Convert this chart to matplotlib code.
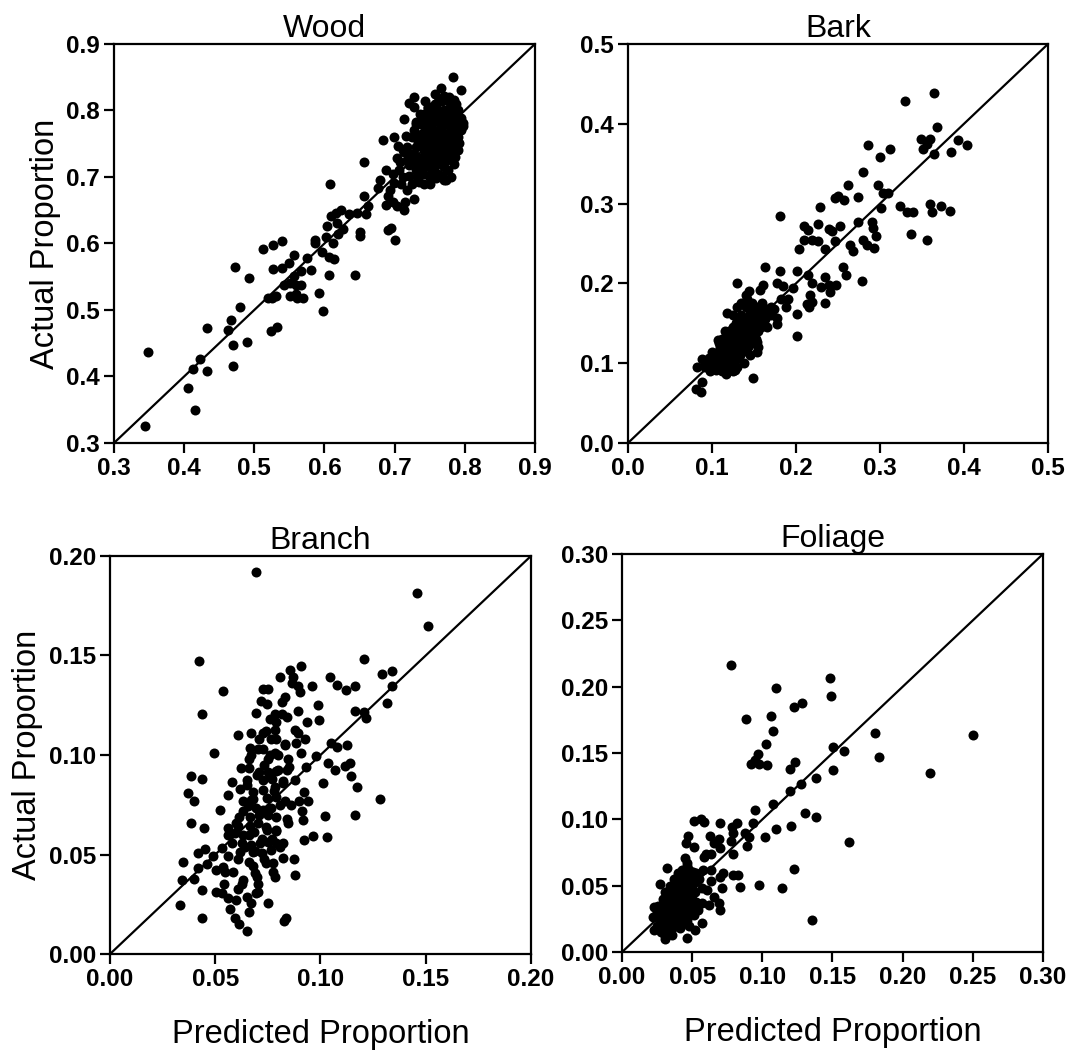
import matplotlib
matplotlib.use("Agg")
import matplotlib.pyplot as plt

plt.rcParams['font.family'] = ['Liberation Sans', 'DejaVu Sans']

# ---- Wood ----
wood_pred = [0.348, 0.344, 0.405, 0.416, 0.412, 0.422, 0.432, 0.433, 0.463, 0.467, 0.470, 0.470,
             0.479, 0.490, 0.472, 0.493, 0.512, 0.526, 0.539, 0.526, 0.540, 0.549, 0.556, 0.520,
             0.525, 0.531, 0.524, 0.533, 0.542, 0.551, 0.556, 0.566, 0.559, 0.566, 0.551, 0.559,
             0.561, 0.569, 0.575, 0.581, 0.586, 0.586, 0.592, 0.598, 0.596, 0.602, 0.606, 0.607,
             0.609, 0.608, 0.612, 0.613, 0.604, 0.618, 0.620, 0.624, 0.627, 0.616, 0.635, 0.643,
             0.646, 0.650, 0.651, 0.656, 0.656, 0.659, 0.662, 0.677, 0.679, 0.683, 0.688, 0.690,
             0.688, 0.690, 0.695, 0.701, 0.693, 0.699, 0.699, 0.705, 0.703, 0.698, 0.706, 0.712,
             0.713, 0.714, 0.715, 0.718, 0.720, 0.716, 0.720, 0.728, 0.728, 0.727, 0.730, 0.732,
             0.725, 0.735, 0.730, 0.737, 0.740, 0.742, 0.744, 0.749, 0.747, 0.751, 0.754, 0.756,
             0.759, 0.761, 0.763, 0.766, 0.767, 0.768, 0.770, 0.773, 0.775, 0.778, 0.783, 0.785,
             0.785, 0.787, 0.792, 0.794, 0.797, 0.797, 0.790]
wood_act = [0.437, 0.325, 0.382, 0.350, 0.412, 0.426, 0.409, 0.473, 0.470, 0.485, 0.448, 0.416,
            0.504, 0.452, 0.565, 0.548, 0.591, 0.598, 0.603, 0.562, 0.563, 0.570, 0.582, 0.518,
            0.518, 0.521, 0.469, 0.475, 0.538, 0.541, 0.551, 0.559, 0.538, 0.537, 0.521, 0.524,
            0.518, 0.518, 0.578, 0.560, 0.605, 0.601, 0.525, 0.499, 0.587, 0.610, 0.579, 0.552,
            0.641, 0.689, 0.601, 0.576, 0.627, 0.631, 0.614, 0.651, 0.622, 0.646, 0.644, 0.553,
            0.646, 0.617, 0.612, 0.723, 0.672, 0.645, 0.657, 0.683, 0.696, 0.755, 0.711, 0.671,
            0.658, 0.621, 0.623, 0.605, 0.681, 0.691, 0.760, 0.746, 0.656, 0.663, 0.711, 0.741,
            0.787, 0.651, 0.663, 0.681, 0.701, 0.761, 0.812, 0.821, 0.805, 0.667, 0.783, 0.728,
            0.728, 0.693, 0.711, 0.746, 0.766, 0.786, 0.716, 0.701, 0.803, 0.806, 0.771, 0.751,
            0.699, 0.731, 0.816, 0.834, 0.791, 0.701, 0.761, 0.696, 0.739, 0.821, 0.851, 0.816,
            0.798, 0.741, 0.751, 0.831, 0.781, 0.776, 0.771]
# dense core of the wood cloud
wood_core_pred = [0.735, 0.740, 0.745, 0.750, 0.752, 0.755, 0.758, 0.760, 0.762, 0.765, 0.768,
                  0.770, 0.772, 0.775, 0.778, 0.780, 0.782, 0.785, 0.788, 0.790, 0.745, 0.750,
                  0.755, 0.760, 0.765, 0.770, 0.775, 0.780, 0.785, 0.740, 0.735, 0.730, 0.725,
                  0.728, 0.738, 0.742, 0.748, 0.757, 0.768, 0.775, 0.782, 0.790, 0.795, 0.760,
                  0.752, 0.766, 0.772, 0.744, 0.756, 0.778, 0.722, 0.718, 0.712, 0.725, 0.732,
                  0.742, 0.762, 0.780, 0.752, 0.770,
                  0.748, 0.753, 0.758, 0.763, 0.767, 0.771, 0.776, 0.781, 0.786, 0.743, 0.739,
                  0.733, 0.747, 0.757, 0.764, 0.769, 0.774, 0.779, 0.761, 0.754, 0.746, 0.736,
                  0.731, 0.727, 0.737, 0.749, 0.758, 0.766, 0.776, 0.786, 0.791, 0.794, 0.788,
                  0.770, 0.758, 0.744, 0.717, 0.721, 0.729, 0.708, 0.714, 0.703, 0.698, 0.709,
                  0.740, 0.750, 0.771, 0.783, 0.762, 0.742]
wood_core_act = [0.760, 0.745, 0.770, 0.755, 0.780, 0.765, 0.790, 0.745, 0.770, 0.755, 0.780,
                 0.800, 0.745, 0.765, 0.785, 0.755, 0.775, 0.765, 0.790, 0.740, 0.735, 0.725,
                 0.740, 0.720, 0.735, 0.715, 0.725, 0.735, 0.720, 0.720, 0.710, 0.745, 0.760,
                 0.770, 0.780, 0.795, 0.805, 0.810, 0.815, 0.800, 0.805, 0.800, 0.770, 0.800,
                 0.750, 0.790, 0.760, 0.755, 0.730, 0.745, 0.735, 0.725, 0.700, 0.690, 0.700,
                 0.690, 0.705, 0.700, 0.700, 0.730,
                 0.762, 0.772, 0.758, 0.782, 0.768, 0.752, 0.778, 0.762, 0.782, 0.778, 0.765,
                 0.752, 0.742, 0.748, 0.762, 0.742, 0.792, 0.812, 0.812, 0.795, 0.788, 0.795,
                 0.780, 0.735, 0.728, 0.715, 0.708, 0.722, 0.710, 0.730, 0.760, 0.788, 0.810,
                 0.822, 0.825, 0.815, 0.745, 0.718, 0.722, 0.722, 0.738, 0.728, 0.705, 0.690,
                 0.705, 0.690, 0.695, 0.750, 0.740, 0.740]

# ---- Bark ----
bark_pred = [0.364, 0.330, 0.368, 0.349, 0.359, 0.356, 0.351, 0.364, 0.393, 0.404, 0.385, 0.286,
             0.312, 0.300, 0.280, 0.262, 0.298, 0.274, 0.246, 0.250, 0.257, 0.304, 0.310, 0.301,
             0.228, 0.324, 0.332, 0.339, 0.359, 0.362, 0.373, 0.383, 0.337, 0.356, 0.181, 0.209,
             0.214, 0.226, 0.239, 0.243, 0.252, 0.274, 0.291, 0.292, 0.295, 0.210, 0.219, 0.226,
             0.247, 0.235, 0.203, 0.264, 0.268, 0.280, 0.285, 0.293, 0.163, 0.181, 0.201, 0.256,
             0.259, 0.214, 0.234, 0.278, 0.130, 0.161, 0.177, 0.185, 0.219, 0.230, 0.239, 0.248,
             0.196, 0.240, 0.217, 0.144, 0.157, 0.140, 0.191, 0.182, 0.213, 0.219, 0.234, 0.216,
             0.188, 0.201, 0.201, 0.149, 0.118,
             0.081, 0.087, 0.088, 0.082, 0.088, 0.100, 0.107, 0.117, 0.127, 0.153, 0.153, 0.177,
             0.177, 0.167, 0.174]
bark_act = [0.439, 0.429, 0.396, 0.381, 0.381, 0.375, 0.368, 0.362, 0.380, 0.374, 0.365, 0.373,
            0.368, 0.358, 0.339, 0.323, 0.323, 0.308, 0.307, 0.309, 0.305, 0.313, 0.313, 0.294,
            0.296, 0.297, 0.289, 0.289, 0.300, 0.289, 0.297, 0.291, 0.262, 0.255, 0.284, 0.272,
            0.267, 0.274, 0.268, 0.266, 0.272, 0.277, 0.277, 0.270, 0.259, 0.254, 0.254, 0.253,
            0.253, 0.243, 0.243, 0.248, 0.241, 0.255, 0.248, 0.244, 0.221, 0.216, 0.215, 0.220,
            0.211, 0.210, 0.208, 0.203, 0.200, 0.198, 0.201, 0.197, 0.201, 0.196, 0.198, 0.198,
            0.194, 0.189, 0.186, 0.191, 0.192, 0.185, 0.181, 0.180, 0.174, 0.177, 0.176, 0.170,
            0.171, 0.162, 0.134, 0.082, 0.163,
            0.068, 0.064, 0.077, 0.095, 0.105, 0.114, 0.129, 0.087, 0.091, 0.114, 0.126, 0.149,
            0.157, 0.168, 0.168]
# dense core of the bark cloud
bark_core_pred = [0.095, 0.100, 0.105, 0.110, 0.112, 0.115, 0.118, 0.120, 0.122, 0.125, 0.128,
                  0.130, 0.132, 0.135, 0.138, 0.140, 0.142, 0.145, 0.148, 0.150, 0.110, 0.115,
                  0.120, 0.125, 0.130, 0.135, 0.140, 0.145, 0.128, 0.135, 0.140, 0.132, 0.125,
                  0.118, 0.112, 0.108, 0.105, 0.100, 0.122, 0.128, 0.133, 0.138, 0.143, 0.148,
                  0.152, 0.155, 0.158, 0.160, 0.163, 0.165, 0.155, 0.145, 0.138, 0.130, 0.125,
                  0.118, 0.112, 0.105, 0.098, 0.092, 0.120, 0.125, 0.130, 0.145, 0.150, 0.155,
                  0.160, 0.170, 0.165, 0.150, 0.115, 0.108, 0.135, 0.142, 0.148,
                  0.110, 0.114, 0.118, 0.122, 0.126, 0.130, 0.134, 0.137, 0.141, 0.144, 0.147,
                  0.152, 0.156, 0.104, 0.108, 0.116, 0.124, 0.127, 0.133, 0.139, 0.121, 0.117,
                  0.113, 0.136, 0.143, 0.150, 0.158, 0.162, 0.170, 0.131, 0.126, 0.119, 0.097,
                  0.102, 0.092]
bark_core_act = [0.100, 0.098, 0.103, 0.098, 0.110, 0.105, 0.115, 0.100, 0.120, 0.110, 0.125,
                 0.115, 0.130, 0.120, 0.135, 0.125, 0.140, 0.130, 0.145, 0.135, 0.120, 0.125,
                 0.130, 0.135, 0.140, 0.145, 0.150, 0.155, 0.150, 0.160, 0.170, 0.155, 0.145,
                 0.135, 0.130, 0.115, 0.112, 0.105, 0.108, 0.105, 0.110, 0.115, 0.120, 0.125,
                 0.130, 0.140, 0.145, 0.150, 0.155, 0.160, 0.120, 0.110, 0.100, 0.095, 0.090,
                 0.092, 0.090, 0.092, 0.090, 0.095, 0.140, 0.160, 0.170, 0.165, 0.160, 0.170,
                 0.175, 0.160, 0.145, 0.150, 0.140, 0.125, 0.175, 0.180, 0.175,
                 0.108, 0.118, 0.122, 0.128, 0.118, 0.128, 0.138, 0.128, 0.132, 0.142, 0.138,
                 0.148, 0.152, 0.108, 0.102, 0.100, 0.102, 0.112, 0.122, 0.142, 0.115, 0.108,
                 0.104, 0.150, 0.158, 0.140, 0.160, 0.165, 0.170, 0.135, 0.128, 0.126, 0.106,
                 0.096, 0.100]

# ---- Branch ----
branch_pred = [0.0696, 0.146, 0.151, 0.0424, 0.1207, 0.0907, 0.0854, 0.081, 0.0868, 0.134, 0.129,
               0.1047, 0.108, 0.112, 0.1166, 0.134, 0.0962, 0.0891, 0.0867, 0.0725, 0.0752, 0.0538,
               0.0902, 0.083, 0.0717, 0.0744, 0.0815, 0.0986, 0.1318, 0.0438, 0.0693, 0.0894,
               0.1163, 0.1207, 0.1214, 0.0783, 0.0815, 0.0843, 0.0994, 0.0938, 0.0791, 0.0609,
               0.0672, 0.0725, 0.0783, 0.0878, 0.0894, 0.0926, 0.0886, 0.0767, 0.0791, 0.083,
               0.0665, 0.0704, 0.0728, 0.0495, 0.0783, 0.0907, 0.0981, 0.1052, 0.1079, 0.1127,
               0.0661, 0.0752, 0.0847, 0.1036, 0.1142, 0.1118, 0.0622, 0.0661, 0.0796, 0.0839,
               0.0930, 0.1068, 0.0709, 0.0752, 0.0383, 0.0438, 0.0582, 0.0653, 0.0728, 0.076,
               0.0878, 0.1144, 0.1013, 0.1174, 0.0369, 0.062, 0.068, 0.0728, 0.0783, 0.0823,
               0.0921, 0.0562, 0.040, 0.063, 0.0672, 0.0744, 0.0791, 0.083, 0.0899, 0.0941,
               0.1282, 0.0657, 0.0696, 0.0728, 0.0767, 0.0522, 0.0910, 0.0614, 0.0665, 0.1021,
               0.1166, 0.0791, 0.0387, 0.0448, 0.0562, 0.0609, 0.0665, 0.0701, 0.0744, 0.0791,
               0.0847, 0.0918, 0.0593, 0.063, 0.0685, 0.0965, 0.1033, 0.0922, 0.0625, 0.0672,
               0.0712, 0.0752, 0.0791, 0.0823, 0.053, 0.0451, 0.062, 0.068, 0.072, 0.0767, 0.0807,
               0.0419, 0.0490, 0.0562, 0.0823, 0.0875, 0.0345, 0.0459, 0.0535, 0.0661, 0.0741,
               0.0775, 0.0419, 0.0506, 0.0546, 0.0585, 0.0688, 0.0775, 0.034, 0.0399, 0.0699,
               0.0783, 0.0878, 0.0633, 0.0625, 0.0543, 0.0502, 0.053, 0.0438, 0.0609, 0.0704,
               0.0704, 0.0562, 0.0601, 0.0649, 0.0696, 0.0668, 0.0752, 0.0332, 0.0569, 0.0660,
               0.0593, 0.0438, 0.0614, 0.0649, 0.0828, 0.0835,
               0.065, 0.068, 0.071, 0.074, 0.077, 0.066, 0.069, 0.072, 0.075, 0.078, 0.081,
               0.084, 0.070, 0.073, 0.076, 0.079, 0.082, 0.085, 0.063, 0.060, 0.067, 0.071,
               0.074, 0.077, 0.080, 0.064, 0.061, 0.068, 0.073, 0.079, 0.086, 0.083, 0.076,
               0.058, 0.056]
branch_act = [0.1921, 0.1816, 0.165, 0.147, 0.148, 0.1447, 0.1427, 0.139, 0.139, 0.1424, 0.1407,
              0.139, 0.135, 0.1327, 0.1348, 0.1348, 0.1348, 0.1348, 0.136, 0.133, 0.133, 0.132,
              0.1318, 0.129, 0.127, 0.1256, 0.1268, 0.1251, 0.126, 0.1206, 0.121, 0.1221, 0.1221,
              0.1214, 0.1184, 0.1204, 0.1204, 0.1193, 0.1176, 0.1168, 0.1168, 0.110, 0.1112,
              0.1112, 0.1126, 0.1126, 0.1112, 0.1079, 0.1062, 0.1079, 0.1079, 0.1054, 0.1037,
              0.1028, 0.1028, 0.1008, 0.1008, 0.1008, 0.0995, 0.1062, 0.1042, 0.1050, 0.0978,
              0.0978, 0.0978, 0.0958, 0.0958, 0.0945, 0.0933, 0.0933, 0.0925, 0.0925, 0.0938,
              0.0925, 0.0916, 0.0916, 0.0896, 0.0879, 0.0866, 0.0874, 0.0874, 0.0891, 0.0874,
              0.0896, 0.0858, 0.0838, 0.0807, 0.0827, 0.0816, 0.0824, 0.0838, 0.0858, 0.0812,
              0.0799, 0.0771, 0.0771, 0.0774, 0.0782, 0.0791, 0.0771, 0.0771, 0.0771, 0.0777,
              0.0744, 0.0732, 0.0724, 0.0732, 0.0724, 0.0719, 0.069, 0.069, 0.0695, 0.0698, 0.069,
              0.066, 0.0632, 0.0632, 0.0645, 0.0645, 0.0657, 0.0623, 0.0623, 0.0657, 0.0673,
              0.0606, 0.0598, 0.0615, 0.0593, 0.0586, 0.0573, 0.0556, 0.0548, 0.0556, 0.0565,
              0.0556, 0.0556, 0.0534, 0.0526, 0.0514, 0.0514, 0.0506, 0.0523, 0.0539, 0.0506,
              0.0492, 0.0492, 0.0481, 0.0476, 0.0461, 0.0452, 0.0439, 0.0464, 0.0459, 0.0459,
              0.043, 0.0422, 0.0414, 0.0414, 0.0405, 0.0414, 0.0372, 0.0377, 0.0385, 0.0389,
              0.0397, 0.0372, 0.035, 0.035, 0.0313, 0.0305, 0.0322, 0.0325, 0.035, 0.0313, 0.028,
              0.0271, 0.0288, 0.0308, 0.0255, 0.0258, 0.0246, 0.0224, 0.0209, 0.0179, 0.0179,
              0.0149, 0.0116, 0.0166, 0.0179,
              0.085, 0.078, 0.070, 0.064, 0.058, 0.060, 0.052, 0.058, 0.070, 0.082, 0.075,
              0.068, 0.090, 0.095, 0.100, 0.092, 0.087, 0.094, 0.072, 0.066, 0.100, 0.108,
              0.112, 0.088, 0.100, 0.054, 0.048, 0.044, 0.048, 0.062, 0.075, 0.105, 0.118,
              0.056, 0.060]

# ---- Foliage ----
foliage_pred = [0.0774, 0.1483, 0.110, 0.1488, 0.1286, 0.1226, 0.106, 0.0881, 0.1079, 0.1805,
                0.2505, 0.1029, 0.1507, 0.1579, 0.1829, 0.0971, 0.0921, 0.0976, 0.0948, 0.1036,
                0.1231, 0.1195, 0.1505, 0.2195, 0.1386, 0.1274, 0.1195, 0.1076, 0.0945, 0.1302,
                0.1381, 0.0933, 0.1095, 0.1202, 0.1019, 0.1619, 0.0888, 0.0905, 0.0874, 0.0821,
                0.0781, 0.0793, 0.0774, 0.0793, 0.0702, 0.0512, 0.056, 0.0583, 0.0626, 0.0690,
                0.0655, 0.0702, 0.0471, 0.0457, 0.0512, 0.060, 0.0631, 0.0583, 0.0631, 0.0721,
                0.0702, 0.0793, 0.0829, 0.0976, 0.084, 0.1138, 0.1226, 0.1357, 0.0631, 0.0714,
                0.0607, 0.0655, 0.069, 0.0695, 0.0619, 0.0571, 0.0531, 0.0567, 0.0517, 0.046,
                0.0464, 0.0517, 0.0507, 0.046, 0.0448, 0.0321, 0.0274, 0.0226, 0.0219, 0.0226,
                0.031,
                0.025, 0.027, 0.028, 0.030, 0.030, 0.032, 0.033, 0.034, 0.035, 0.036, 0.037, 0.038,
                0.039, 0.040, 0.041, 0.042, 0.043, 0.044, 0.045, 0.046, 0.047, 0.048, 0.049, 0.050,
                0.028, 0.031, 0.033, 0.036, 0.039, 0.042, 0.045, 0.048, 0.026, 0.029, 0.031, 0.034,
                0.037, 0.040, 0.043, 0.046, 0.024, 0.027, 0.035, 0.038, 0.041, 0.044, 0.032, 0.035,
                0.037, 0.040, 0.042, 0.045, 0.050, 0.052, 0.055, 0.053, 0.057, 0.058, 0.051, 0.054,
                0.030, 0.032, 0.034, 0.036, 0.038, 0.040, 0.042, 0.044, 0.046, 0.035, 0.037, 0.033,
                0.031, 0.029, 0.028, 0.026, 0.039, 0.041, 0.043, 0.045, 0.047, 0.049, 0.036, 0.034,
                0.040, 0.038, 0.042, 0.044, 0.048, 0.052, 0.036, 0.041, 0.046, 0.050]
foliage_act = [0.2165, 0.2065, 0.1992, 0.1927, 0.188, 0.1847, 0.1782, 0.1754, 0.1667, 0.1654,
               0.1639, 0.1571, 0.1546, 0.1514, 0.1471, 0.1496, 0.1421, 0.1421, 0.1446, 0.1414,
               0.1434, 0.1378, 0.1371, 0.1351, 0.1316, 0.1266, 0.1216, 0.1113, 0.1075, 0.105,
               0.102, 0.097, 0.0927, 0.095, 0.087, 0.083, 0.080, 0.0865, 0.0895, 0.097, 0.094,
               0.0895, 0.0837, 0.0739, 0.0975, 0.099, 0.100, 0.0982, 0.0875, 0.085, 0.082, 0.0782,
               0.0875, 0.0825, 0.079, 0.0739, 0.0739, 0.0719, 0.0619, 0.0599, 0.0569, 0.0581,
               0.0581, 0.0506, 0.0489, 0.0481, 0.0624, 0.0243, 0.0536, 0.0481, 0.0469, 0.0419,
               0.0368, 0.0318, 0.0356, 0.0368, 0.0381, 0.0218, 0.0168, 0.0105, 0.0243, 0.0531,
               0.0607, 0.0669, 0.0707, 0.0632, 0.0511, 0.0343, 0.0268, 0.0168, 0.0098,
               0.020, 0.025, 0.030, 0.022, 0.035, 0.028, 0.040, 0.018, 0.032, 0.045, 0.025, 0.038,
               0.050, 0.030, 0.042, 0.055, 0.035, 0.048, 0.040, 0.052, 0.030, 0.045, 0.058, 0.035,
               0.015, 0.012, 0.015, 0.013, 0.020, 0.022, 0.025, 0.020, 0.035, 0.040, 0.045, 0.050,
               0.055, 0.060, 0.062, 0.065, 0.028, 0.018, 0.022, 0.030, 0.027, 0.032, 0.036, 0.040,
               0.048, 0.050, 0.045, 0.058, 0.050, 0.045, 0.055, 0.060, 0.048, 0.062, 0.028, 0.032,
               0.030, 0.020, 0.026, 0.034, 0.042, 0.038, 0.030, 0.040, 0.045, 0.045, 0.035, 0.032,
               0.038, 0.026, 0.022, 0.030, 0.026, 0.034, 0.044, 0.050, 0.055, 0.040, 0.050, 0.042,
               0.046, 0.054, 0.050, 0.056, 0.062, 0.055, 0.018, 0.018, 0.035, 0.040]

panels = [
    dict(title="Wood", x=wood_pred + wood_core_pred, y=wood_act + wood_core_act, lim=(0.3, 0.9),
         ticks=[0.3, 0.4, 0.5, 0.6, 0.7, 0.8, 0.9], fmt="{:.1f}",
         rect=[0.1063, 0.5801, 0.3927, 0.3782], ylabel=True, xlabel=False),
    dict(title="Bark", x=bark_pred + bark_core_pred, y=bark_act + bark_core_act, lim=(0.0, 0.5),
         ticks=[0.0, 0.1, 0.2, 0.3, 0.4, 0.5], fmt="{:.1f}",
         rect=[0.5858, 0.5801, 0.3918, 0.3782], ylabel=False, xlabel=False),
    dict(title="Branch", x=branch_pred, y=branch_act, lim=(0.0, 0.2),
         ticks=[0.00, 0.05, 0.10, 0.15, 0.20], fmt="{:.2f}",
         rect=[0.1026, 0.0957, 0.3927, 0.3773], ylabel=True, xlabel=True),
    dict(title="Foliage", x=foliage_pred, y=foliage_act, lim=(0.0, 0.3),
         ticks=[0.00, 0.05, 0.10, 0.15, 0.20, 0.25, 0.30], fmt="{:.2f}",
         rect=[0.5802, 0.0975, 0.3927, 0.3773], ylabel=False, xlabel=True),
]

fig = plt.figure(figsize=(10.72, 10.55), dpi=100)

for p in panels:
    ax = fig.add_axes(p["rect"])
    lo, hi = p["lim"]
    ax.plot([lo, hi], [lo, hi], color="black", lw=1.6, zorder=1)
    ax.plot(p["x"], p["y"], "o", color="black", ms=7.2, mew=0, zorder=2)
    ax.set_xlim(lo, hi)
    ax.set_ylim(lo, hi)
    ax.set_xticks(p["ticks"])
    ax.set_yticks(p["ticks"])
    labels = [p["fmt"].format(t) for t in p["ticks"]]
    ax.set_xticklabels(labels, fontsize=17.5, fontweight="bold")
    ax.set_yticklabels(labels, fontsize=17.5, fontweight="bold")
    ax.tick_params(direction="out", length=7, width=1.6, pad=3,
                   top=False, right=False)
    for s in ax.spines.values():
        s.set_linewidth(1.6)
    ax.set_title(p["title"], fontsize=23, pad=5)
    if p["ylabel"]:
        ax.set_ylabel("Actual Proportion", fontsize=23.5, labelpad=4)
    if p["xlabel"]:
        ax.set_xlabel("Predicted Proportion", fontsize=23.5, labelpad=20)

fig.savefig("out.png", dpi=100)
